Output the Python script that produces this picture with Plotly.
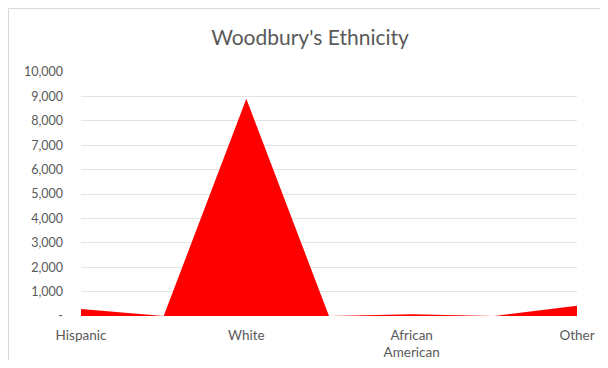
import plotly.graph_objects as go

categories = ["Hispanic", "", "White", "", "African<br>American", "", "Other"]
population = [290, 0, 8900, 0, 70, 0, 420]
y_tick_values = [0, 1000, 2000, 3000, 4000, 5000, 6000, 7000, 8000, 9000, 10000]
y_tick_labels = ["-", "1,000", "2,000", "3,000", "4,000", "5,000", "6,000", "7,000", "8,000", "9,000", "10,000"]

positions = list(range(len(categories)))

# page has an 8px body margin, so the figure is drawn 8px right/down;
# keep the figure inside the 608x368 window to avoid any overflow
OFF = 8
W, H = 608 - 2 * OFF, 368 - 2 * OFF
L, T = 81 - OFF, 72 - OFF
R = W - (577 - OFF)
B = H - (316 - OFF)
pw, ph = W - L - R, H - T - B

def px_to_paper_x(px):
    return (px - OFF - L) / pw

def px_to_paper_y(py):
    return (H - B - (py - OFF)) / ph

fig = go.Figure()
fig.add_trace(go.Scatter(
    x=positions, y=population, mode="lines", fill="tozeroy",
    line=dict(width=0, color="#ff0000"), fillcolor="#ff0000",
    hoverinfo="skip", showlegend=False,
))

font = "Lato, 'Open Sans', sans-serif"
border = dict(color="#d9d9d9", width=1)
fig.update_layout(
    width=W, height=H,
    margin=dict(l=L, r=R, t=T, b=B, autoexpand=False),
    paper_bgcolor="white", plot_bgcolor="white",
    font=dict(family=font, color="#595959", size=12),
    title=dict(text="Woodbury's Ethnicity", x=(310 - OFF) / W, xanchor="center",
               y=1 - (38 - OFF) / H, yanchor="middle",
               font=dict(size=21, color="#595959", family=font)),
    xaxis=dict(range=[0, len(categories) - 1], tickvals=positions, ticktext=categories,
               showgrid=False, zeroline=False, showline=False, ticks="",
               ticklabelstandoff=9, automargin=False,
               tickfont=dict(size=13.5, color="#595959"), fixedrange=True),
    yaxis=dict(range=[0, 10000], tickvals=y_tick_values, ticktext=y_tick_labels,
               showgrid=True, gridcolor="#e3e3e3", gridwidth=1, automargin=False,
               zeroline=False, showline=False, ticks="", ticklabelstandoff=17,
               tickfont=dict(size=12.5, color="#595959")),
    shapes=[
        dict(type="line", xref="paper", yref="paper",
             x0=px_to_paper_x(8.5), x1=px_to_paper_x(8.5),
             y0=px_to_paper_y(368), y1=px_to_paper_y(8.5), line=border, layer="below"),
        dict(type="line", xref="paper", yref="paper",
             x0=px_to_paper_x(8.5), x1=px_to_paper_x(700),
             y0=px_to_paper_y(8.5), y1=px_to_paper_y(8.5), line=border, layer="below"),
    ],
)

fig.write_html("out.html")
